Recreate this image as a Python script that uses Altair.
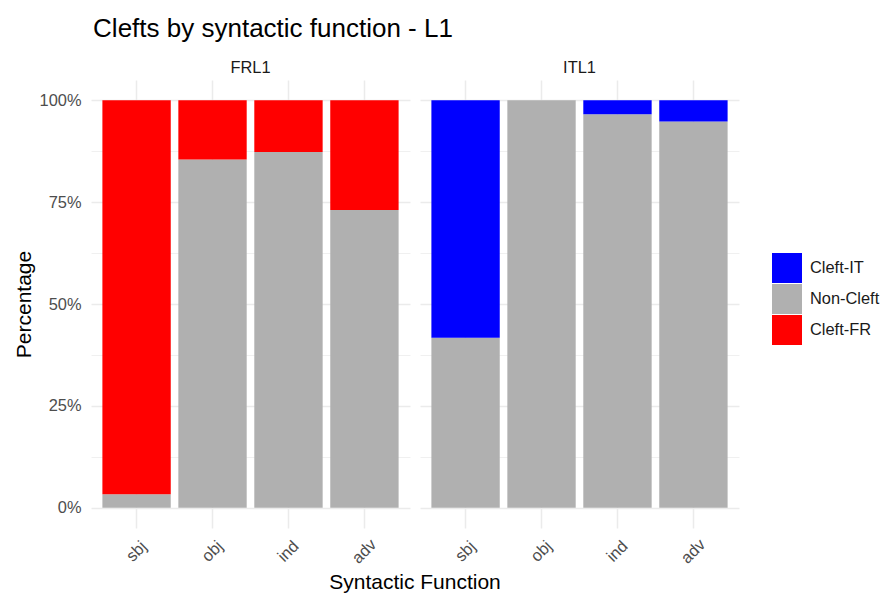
import altair as alt
import pandas as pd

groups = ["FRL1", "ITL1"]
functions = ["sbj", "obj", "ind", "adv"]
noncleft_frl1 = [0.033, 0.855, 0.873, 0.731]
cleft_frl1 = [0.967, 0.145, 0.127, 0.269]
noncleft_itl1 = [0.417, 1.0, 0.966, 0.948]
cleft_itl1 = [0.583, 0.0, 0.034, 0.052]
categories = ["Cleft-IT", "Non-Cleft", "Cleft-FR"]
colors = ["#0000FF", "#B0B0B0", "#FF0000"]
y_ticks = [0, 0.125, 0.25, 0.375, 0.5, 0.625, 0.75, 0.875, 1.0]

rows = []
for i, f in enumerate(functions):
    rows.append({"group": "FRL1", "func": f, "type": "Non-Cleft", "value": noncleft_frl1[i], "ord": 0})
    rows.append({"group": "FRL1", "func": f, "type": "Cleft-FR", "value": cleft_frl1[i], "ord": 1})
    rows.append({"group": "ITL1", "func": f, "type": "Non-Cleft", "value": noncleft_itl1[i], "ord": 0})
    rows.append({"group": "ITL1", "func": f, "type": "Cleft-IT", "value": cleft_itl1[i], "ord": 1})
df = pd.DataFrame(rows)

FONT = "Liberation Sans"

base = alt.Chart(df).mark_bar().encode(
    x=alt.X(
        "func:N",
        sort=functions,
        scale=alt.Scale(paddingInner=0.1, paddingOuter=0.15),
        axis=alt.Axis(
            title=None,
            labelAngle=315,
            labelAlign="center",
            labelBaseline="middle",
            labelPadding=23,
            labelFontSize=16.4,
            labelColor="#4D4D4D",
            labelFont=FONT,
            ticks=False,
            domain=False,
            grid=True,
            gridColor="#EBEBEB",
            gridWidth=1.5,
            bandPosition=0.5,
        ),
    ),
    y=alt.Y(
        "value:Q",
        stack="zero",
        scale=alt.Scale(domain=[-0.05, 1.05], nice=False, zero=False),
        axis=alt.Axis(
            title="Percentage",
            values=y_ticks,
            labelExpr="datum.value % 0.25 === 0 ? format(datum.value, '.0%') : ''",
            labelFontSize=16.4,
            labelColor="#4D4D4D",
            labelFont=FONT,
            labelPadding=10,
            ticks=False,
            domain=False,
            gridColor="#EBEBEB",
            gridWidth={"condition": {"test": "datum.value % 0.25 === 0", "value": 1.5}, "value": 0.75},
            titleFontSize=21,
            titleFont=FONT,
            titleFontWeight="normal",
            titleColor="black",
            titlePadding=5,
        ),
    ),
    color=alt.Color(
        "type:N",
        scale=alt.Scale(domain=categories, range=colors),
        legend=alt.Legend(
            title=None,
            orient="none",
            legendX=681,
            legendY=173,
            symbolType="square",
            symbolSize=900,
            symbolStrokeWidth=0,
            symbolOpacity=1,
            labelFontSize=16.4,
            labelFont=FONT,
            labelColor="#1A1A1A",
            rowPadding=1,
            labelOffset=8,
        ),
    ),
    order=alt.Order("ord:Q"),
).properties(width=319, height=448)

chart = base.facet(
    column=alt.Facet(
        "group:N",
        sort=groups,
        title="Syntactic Function",
        header=alt.Header(
            labelOrient="top",
            titleOrient="bottom",
            labelFontSize=16.4,
            labelFont=FONT,
            labelColor="#1A1A1A",
            labelPadding=4,
            titleFontSize=21,
            titleFont=FONT,
            titleColor="black",
            titleFontWeight="normal",
            titlePadding=-5,
        ),
    ),
    spacing=10,
).properties(
    title=alt.TitleParams(
        "Clefts by syntactic function - L1",
        anchor="start",
        fontSize=26,
        font=FONT,
        fontWeight="normal",
        color="black",
        offset=18,
        dx=80,
    ),
    padding={"left": 5, "top": 7, "right": 0, "bottom": 0},
    background="white",
).configure_view(stroke=None)

chart.save("out.html", embed_options={"renderer": "svg", "actions": False})
